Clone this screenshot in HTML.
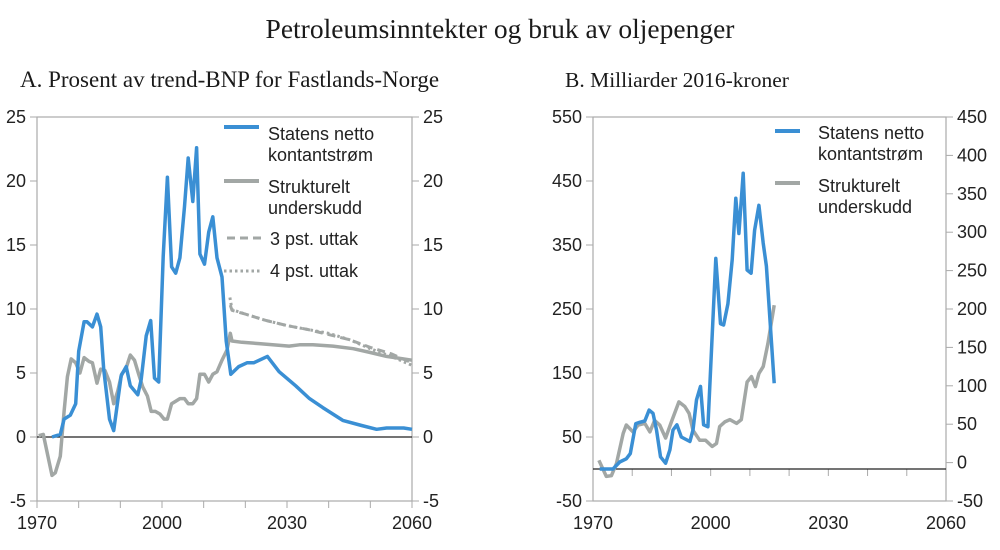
<!DOCTYPE html>
<html><head><meta charset="utf-8"><style>
body{margin:0;background:#fff;}
svg{display:block;}
.serif{font-family:"Liberation Serif",serif;fill:#1a1a1a;}
.tick{font-family:"Liberation Sans",sans-serif;font-size:18px;fill:#222;}
.leg{font-family:"Liberation Sans",sans-serif;font-size:18px;fill:#222;}
</style></head><body>
<svg id="c" width="1000" height="550" viewBox="0 0 1000 550">
<text class="serif" x="500" y="38" font-size="27.5" text-anchor="middle">Petroleumsinntekter og bruk av oljepenger</text>
<text class="serif" x="20" y="87" font-size="23">A. Prosent av trend-BNP for Fastlands-Norge</text>
<text class="serif" x="565" y="87" font-size="21.5">B.  Milliarder 2016-kroner</text>
<g id="gA"></g>
<g id="gB"></g>
</svg>
<script>
// Panel A data
const aBlueYears=[1973.6,1975.6,1976.5,1978,1979.3,1980,1981.3,1982,1983.3,1984.4,1985.3,1986,1987.4,1988.4,1990.2,1991.4,1992.4,1994.2,1995,1996.2,1997.3,1998.2,1999.2,2000.3,2001.3,2002.3,2003.3,2004.3,2005.4,2006.3,2007.4,2008.3,2009.1,2010.2,2011.2,2012.2,2013.2,2014.4,2015.4,2016.5,2018.4,2020.4,2022,2025.3,2028.1,2032.1,2035.4,2038.6,2043.4,2047.9,2051.5,2053.9,2058,2060];
const aBlueVals=[0,0.2,1.4,1.7,2.6,6.7,9,9,8.6,9.6,8.6,5.3,1.4,0.5,4.8,5.5,4,3.3,4.5,7.9,9.1,4.6,4.3,14.1,20.3,13.3,12.8,14,18,21.8,18.4,22.6,14.3,13.5,16,17.2,14,12.5,7.5,4.9,5.5,5.8,5.8,6.3,5.1,4.0,3.0,2.3,1.3,0.9,0.6,0.7,0.7,0.6];
const aGrayYears=[1970.4,1971.5,1973.6,1974.4,1975.6,1976.5,1977.3,1978.2,1979.3,1980.3,1981.3,1982.5,1983.3,1984.4,1985.3,1986.3,1987.4,1988.4,1989.4,1990.3,1991.4,1992.4,1993.4,1994.4,1995.4,1996.5,1997.4,1998.4,1999.5,2000.5,2001.3,2002.3,2003.3,2004.3,2005.4,2006.3,2007.4,2008.3,2009.1,2010.2,2011.2,2012.2,2013.2,2014.4,2015.6,2016.4,2016.8,2019.2,2023.3,2030.5,2033,2036.2,2041,2045.9,2050,2053.9,2060];
const aGrayVals=[0.1,0.2,-3,-2.8,-1.5,2,4.7,6.1,5.8,5,6.2,5.9,5.8,4.2,5.3,5.2,4.3,2.6,3.6,4.9,5.4,6.4,6,4.9,3.9,3.2,2,2,1.8,1.4,1.4,2.6,2.8,3,3,2.6,2.6,3,4.9,4.9,4.3,4.9,5.1,6,6.8,8.1,7.5,7.4,7.3,7.1,7.2,7.2,7.1,6.9,6.6,6.3,6.0];
const aDashYears=[2016.4,2016.8,2020,2025,2030,2035,2040,2045,2050,2055,2060];
const aDashVals=[10.3,9.9,9.6,9.1,8.7,8.4,8.0,7.6,7.0,6.5,5.8];
const aDotYears=[2016.3,2016.8,2020,2025,2030,2035,2040,2045,2050,2055,2060];
const aDotVals=[10.9,9.95,9.6,9.1,8.7,8.4,8.1,7.6,6.9,6.3,5.6];
const aTicks=[25,20,15,10,5,0,-5];
const xTickLabels=[1970,2000,2030,2060];
// Panel B data
const bBlueYears=[1971.7,1975.1,1976.8,1978.5,1979.5,1980.9,1981.9,1983.2,1984.3,1985.3,1986.2,1987.2,1988.5,1989.6,1990.4,1991.4,1992.5,1994.7,1995.5,1996.4,1997.4,1998.2,1999.3,2001.3,2002.5,2003.3,2004.4,2005.5,2006.4,2007.2,2008.3,2009.3,2010.3,2011.2,2012.3,2013.4,2014.2,2016.2];
const bBlueVals=[0,0,11,16,24,71,73,75,92,87,61,19,9,30,61,69,50,43,61,108,129,69,66,329,227,225,258,327,423,368,462,311,306,373,412,353,317,134];
const bGrayYears=[1971.5,1973.4,1974.7,1976,1977.7,1978.5,1980.2,1981.5,1983.2,1984.5,1985.7,1987,1988.5,1990,1991.9,1993.4,1994.5,1995.5,1997.2,1998.7,2000.4,2001.5,2002.3,2003.6,2004.9,2006.6,2007.8,2009.3,2010.4,2011.4,2012.3,2013.4,2014.6,2016.2];
const bGrayVals=[3,-18,-17,-1,38,49,40,49,51,40,55,49,32,53,79,73,64,42,29,29,21,25,47,53,56,51,56,105,112,99,116,125,155,205];
const bLeftTicks=[550,450,350,250,150,50,-50];
const bRightTicks=[450,400,350,300,250,200,150,100,50,0,-50];

const NS="http://www.w3.org/2000/svg";
function mk(parent,tag,attrs,name){const e=document.createElementNS(NS,tag);for(const k in attrs)e.setAttribute(k,attrs[k]);


parent.appendChild(e);return e;}
function txt(parent,x,y,s,anchor,cls,name){const t=mk(parent,'text',{x:x,y:y,'text-anchor':anchor,class:cls},name);t.textContent=s;return t;}
function poly(parent,xs,ys,fx,fy,stroke,w,dash,name){
 const pts=xs.map((x,i)=>fx(x).toFixed(1)+','+fy(ys[i]).toFixed(1)).join(' ');
 const a={points:pts,fill:'none',stroke:stroke,'stroke-width':w,'stroke-linejoin':'round'};
 if(dash)a['stroke-dasharray']=dash;
 mk(parent,'polyline',a,name);
}
const BLUE='#3a8fd4',GRAY='#a2a7a5',AX='#aaaaaa';

// Panel A
(function(){
 const g=document.getElementById('gA');
 const L=37,R=412,T=117,B=501;
 const x=y=>L+(y-1970)/90*(R-L);
 const yv=v=>B-(v+5)/30*(B-T);
 mk(g,'rect',{x:L,y:T,width:R-L,height:B-T,fill:'none',stroke:AX,'stroke-width':1.2},'plot-frame');
 aTicks.forEach(v=>{
  mk(g,'line',{x1:L-7,x2:L,y1:yv(v),y2:yv(v),stroke:AX},'y-tick-left');
  mk(g,'line',{x1:R,x2:R+7,y1:yv(v),y2:yv(v),stroke:AX},'y-tick-right');
  txt(g,L-11,yv(v)+6,String(v),'end','tick','y-tick-label-left');
  txt(g,R+11,yv(v)+6,String(v),'start','tick','y-tick-label-right');
 });
 for(let yr=1970;yr<=2060;yr+=10)mk(g,'line',{x1:x(yr),x2:x(yr),y1:B,y2:B+7,stroke:AX},'x-tick');
 xTickLabels.forEach(yr=>txt(g,x(yr),B+28,String(yr),'middle','tick','x-tick-label'));
 mk(g,'line',{x1:L,x2:R,y1:yv(0),y2:yv(0),stroke:'#222','stroke-width':1.2},'zero-line');
 poly(g,aDashYears,aDashVals,x,yv,GRAY,3,'8,5','line-3pst');
 poly(g,aDotYears,aDotVals,x,yv,GRAY,3,'2.5,3','line-4pst');
 poly(g,aGrayYears,aGrayVals,x,yv,GRAY,3.5,null,'line-strukturelt');
 poly(g,aBlueYears,aBlueVals,x,yv,BLUE,3.5,null,'line-statens-netto');
 mk(g,'line',{x1:224,x2:259,y1:127,y2:127,stroke:BLUE,'stroke-width':4},'legend-swatch-blue');
 txt(g,268,140,'Statens netto','start','leg','legend-label-blue');
 txt(g,268,161,'kontantstrøm','start','leg','legend-label-blue-2');
 mk(g,'line',{x1:224,x2:259,y1:181,y2:181,stroke:GRAY,'stroke-width':4},'legend-swatch-gray');
 txt(g,268,193,'Strukturelt','start','leg','legend-label-gray');
 txt(g,268,214,'underskudd','start','leg','legend-label-gray-2');
 mk(g,'line',{x1:227,x2:262,y1:238,y2:238,stroke:GRAY,'stroke-width':3,'stroke-dasharray':'8,5'},'legend-swatch-3pst');
 txt(g,270,245,'3 pst. uttak','start','leg','legend-label-3pst');
 mk(g,'line',{x1:224,x2:262,y1:271,y2:271,stroke:GRAY,'stroke-width':3,'stroke-dasharray':'2.5,3'},'legend-swatch-4pst');
 txt(g,270,277,'4 pst. uttak','start','leg','legend-label-4pst');
})();

// Panel B
(function(){
 const g=document.getElementById('gB');
 const L=593,R=946,T=117,B=501;
 const x=y=>L+(y-1970)/90*(R-L);
 const yl=v=>B-(v+50)/600*(B-T);
 const yr=v=>B-(v+50)/500*(B-T);
 mk(g,'rect',{x:L,y:T,width:R-L,height:B-T,fill:'none',stroke:AX,'stroke-width':1.2},'plot-frame');
 bLeftTicks.forEach(v=>{
  mk(g,'line',{x1:L-7,x2:L,y1:yl(v),y2:yl(v),stroke:AX},'y-tick-left');
  txt(g,L-11,yl(v)+6,String(v),'end','tick','y-tick-label-left');
 });
 bRightTicks.forEach(v=>{
  mk(g,'line',{x1:R,x2:R+7,y1:yr(v),y2:yr(v),stroke:AX},'y-tick-right');
  txt(g,R+11,yr(v)+6,String(v),'start','tick','y-tick-label-right');
 });
 for(let y=1970;y<=2060;y+=10)mk(g,'line',{x1:x(y),x2:x(y),y1:yl(0),y2:yl(0)+7,stroke:AX},'x-tick');
 mk(g,'line',{x1:L,x2:R,y1:yl(0),y2:yl(0),stroke:'#222','stroke-width':1.2},'x-axis-line');
 xTickLabels.forEach(y=>txt(g,x(y),B+28,String(y),'middle','tick','x-tick-label'));
 poly(g,bGrayYears,bGrayVals,x,yr,GRAY,3.5,null,'line-strukturelt');
 poly(g,bBlueYears,bBlueVals,x,yl,BLUE,3.5,null,'line-statens-netto');
 mk(g,'line',{x1:775,x2:800,y1:131,y2:131,stroke:BLUE,'stroke-width':4},'legend-swatch-blue');
 txt(g,818,139,'Statens netto','start','leg','legend-label-blue');
 txt(g,818,160,'kontantstrøm','start','leg','legend-label-blue-2');
 mk(g,'line',{x1:775,x2:800,y1:183,y2:183,stroke:GRAY,'stroke-width':4},'legend-swatch-gray');
 txt(g,818,192,'Strukturelt','start','leg','legend-label-gray');
 txt(g,818,213,'underskudd','start','leg','legend-label-gray-2');
})();
</script>
</body></html>
